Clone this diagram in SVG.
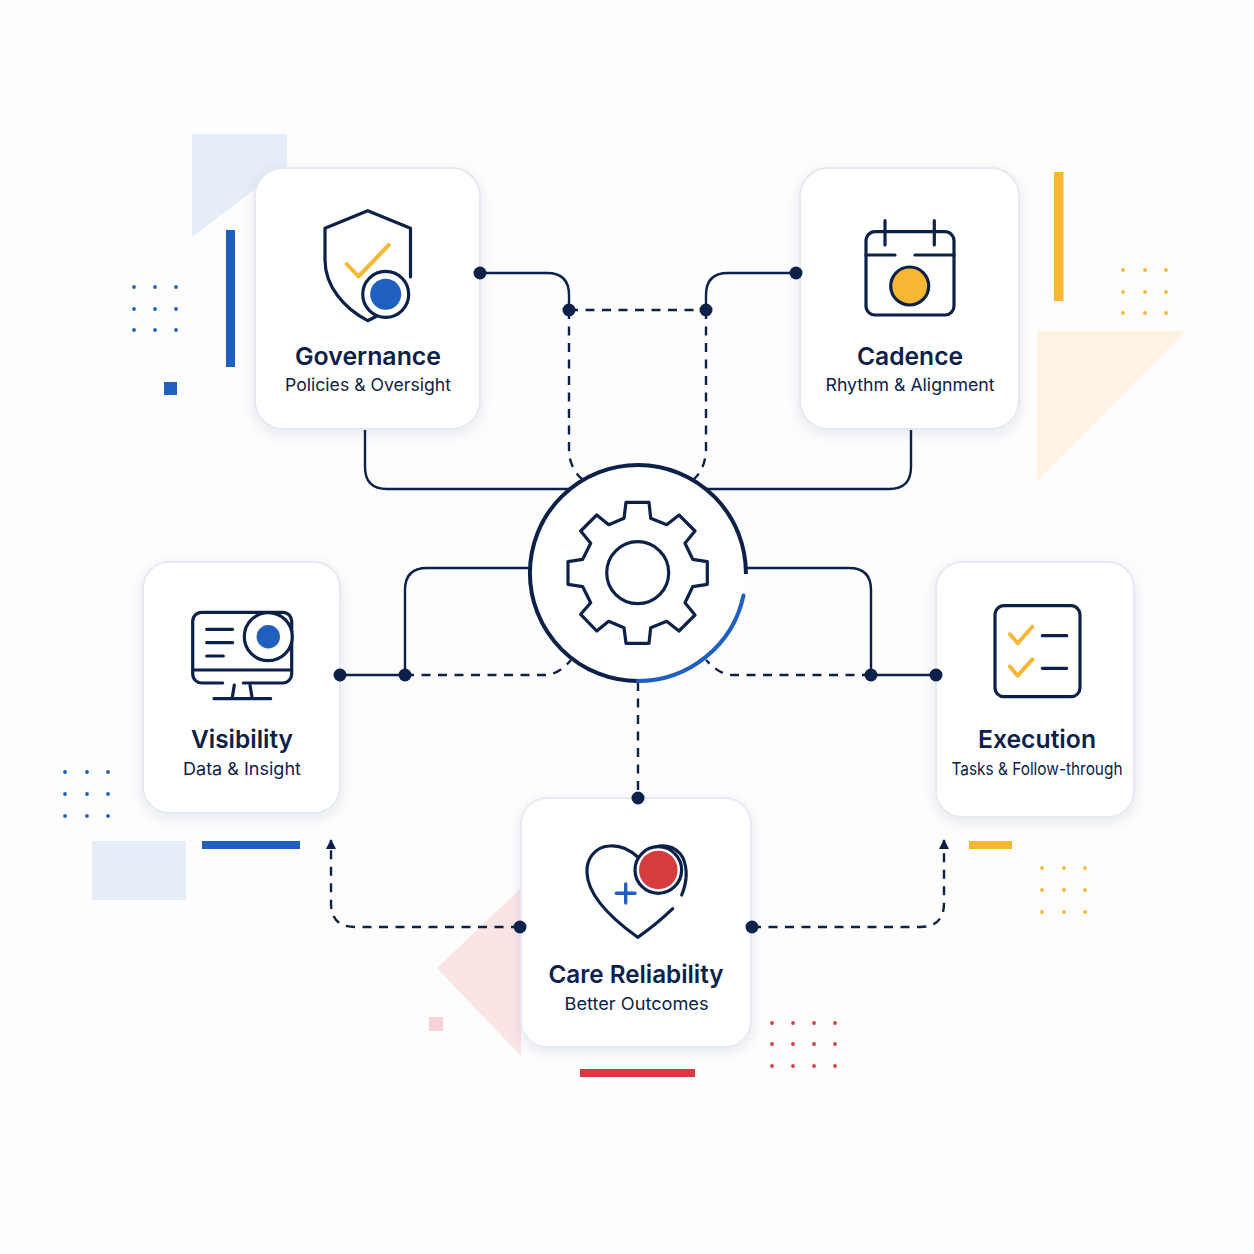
<svg xmlns="http://www.w3.org/2000/svg" width="1254" height="1254" viewBox="0 0 1254 1254">
<style>
.card{fill:#fff;stroke:#e5e9f1;stroke-width:2;filter:url(#sh)}
.i{fill:none;stroke:#0b2149;stroke-width:3.2;stroke-linecap:round;stroke-linejoin:round}
.ck{fill:none;stroke:#f7b733;stroke-width:4;stroke-linecap:round;stroke-linejoin:round}
.w{fill:#fff}
.ln{fill:none;stroke:#0b2149;stroke-width:2.4}
.da{stroke-dasharray:9 7.5}
.dot{fill:#0b2149}
.t{font-family:"Inter","Liberation Sans",sans-serif;font-weight:600;font-size:24.8px;fill:#0b2149;text-anchor:middle}
.s{font-family:"Inter","Liberation Sans",sans-serif;font-weight:400;font-size:17.6px;fill:#0b2149;text-anchor:middle}
.bl{fill:#1f5fbf}.am{fill:#f7b733}.rd{fill:#d63c3f}
.bl circle,.am circle,.rd circle{r:1.9px}
</style>
<defs>
<filter id="sh" x="-20%" y="-20%" width="140%" height="140%"><feDropShadow dx="0" dy="4" stdDeviation="6" flood-color="#24386a" flood-opacity="0.10"/></filter>
<marker id="ah" viewBox="0 0 10 10" refX="9" refY="5" markerWidth="10" markerHeight="10" markerUnits="userSpaceOnUse" orient="auto"><path d="M0 0L10 5L0 10Z" fill="#0b2149"/></marker>
</defs>
<rect width="1254" height="1254" fill="#fdfdfe"/>
<g id="decor">
<polygon points="192,134 287,134 287,165 192,237" fill="#e5edf8"/>
<rect x="226" y="230" width="9" height="137" class="bl"/>
<rect x="164" y="382" width="13" height="13" class="bl"/>
<rect x="1054" y="172" width="9.500" height="129" class="am"/>
<polygon points="1037,331 1186,331 1037,481" fill="#fdf3e2"/>
<rect x="92" y="841" width="94" height="59" fill="#e5edf8"/>
<rect x="202" y="841" width="98" height="8" class="bl"/>
<rect x="969" y="841" width="43" height="8" class="am"/>
<polygon points="521,888 437,968 521,1056" fill="#fbe4e4"/>
<rect x="429" y="1017" width="14" height="14" fill="#f8d2d4"/>
<rect x="580" y="1069" width="115" height="8" class="rd"/>
<g class="bl"><circle cx="134" cy="287" r="1.900"/><circle cx="155" cy="287" r="1.900"/><circle cx="176" cy="287" r="1.900"/><circle cx="134" cy="309" r="1.900"/><circle cx="155" cy="309" r="1.900"/><circle cx="176" cy="309" r="1.900"/><circle cx="134" cy="330" r="1.900"/><circle cx="155" cy="330" r="1.900"/><circle cx="176" cy="330" r="1.900"/>
<circle cx="65" cy="772" r="1.900"/><circle cx="87" cy="772" r="1.900"/><circle cx="108" cy="772" r="1.900"/><circle cx="65" cy="794" r="1.900"/><circle cx="87" cy="794" r="1.900"/><circle cx="108" cy="794" r="1.900"/><circle cx="65" cy="816" r="1.900"/><circle cx="87" cy="816" r="1.900"/><circle cx="108" cy="816" r="1.900"/></g>
<g class="am"><circle cx="1123" cy="270" r="1.900"/><circle cx="1145" cy="270" r="1.900"/><circle cx="1166" cy="270" r="1.900"/><circle cx="1123" cy="292" r="1.900"/><circle cx="1145" cy="292" r="1.900"/><circle cx="1166" cy="292" r="1.900"/><circle cx="1123" cy="313" r="1.900"/><circle cx="1145" cy="313" r="1.900"/><circle cx="1166" cy="313" r="1.900"/>
<circle cx="1042" cy="868" r="1.900"/><circle cx="1064" cy="868" r="1.900"/><circle cx="1085" cy="868" r="1.900"/><circle cx="1042" cy="890" r="1.900"/><circle cx="1064" cy="890" r="1.900"/><circle cx="1085" cy="890" r="1.900"/><circle cx="1042" cy="912" r="1.900"/><circle cx="1064" cy="912" r="1.900"/><circle cx="1085" cy="912" r="1.900"/></g>
<g class="rd"><circle cx="772" cy="1023" r="1.900"/><circle cx="793" cy="1023" r="1.900"/><circle cx="814" cy="1023" r="1.900"/><circle cx="835" cy="1023" r="1.900"/><circle cx="772" cy="1044" r="1.900"/><circle cx="793" cy="1044" r="1.900"/><circle cx="814" cy="1044" r="1.900"/><circle cx="835" cy="1044" r="1.900"/><circle cx="772" cy="1066" r="1.900"/><circle cx="793" cy="1066" r="1.900"/><circle cx="814" cy="1066" r="1.900"/><circle cx="835" cy="1066" r="1.900"/></g>
</g>
<g id="connectors">
<path class="ln" d="M480 273H547Q569 273 569 295V310"/>
<path class="ln" d="M796 273H728Q706 273 706 295V310"/>
<path class="ln da" d="M569 310H706"/>
<path class="ln da" d="M569 310V448Q569 468 582 479"/>
<path class="ln da" d="M706 310V448Q706 468 694 479"/>
<path class="ln" d="M365 429V467Q365 489 387 489H570"/>
<path class="ln" d="M911 429V467Q911 489 889 489H706"/>
<path class="ln" d="M530 568H427Q405 568 405 590V675"/>
<path class="ln" d="M746 568H849Q871 568 871 590V675"/>
<path class="ln" d="M340 675H405"/>
<path class="ln" d="M871 675H936"/>
<path class="ln da" d="M405 675H545Q558 675 571 660"/>
<path class="ln da" d="M871 675H732Q720 675 706 660"/>
<path class="ln da" d="M638 682V798"/>
<path class="ln da" marker-end="url(#ah)" d="M520 927H355Q331 927 331 903V840"/>
<path class="ln da" marker-end="url(#ah)" d="M752 927H920Q944 927 944 903V840"/>
</g>
<g id="hub">
<circle cx="638" cy="573" r="106" fill="#fff"/>
<path fill="none" stroke="#0b2149" stroke-width="4" d="M638 681A108 108 0 1 1 745.900 574"/>
<path fill="none" stroke="#1f5fbf" stroke-width="4" stroke-linecap="round" d="M743.500 595.500A108 108 0 0 1 638 681"/>
<path class="i" stroke-linecap="butt" d="M626 502.300H649L650.700 518.300L666.700 524.700L679 515L695 531L685 543.300L692.700 559.300L707.300 561.700V584.300L692.700 586.700L685 602.700L695 615L679 631L666.700 621.300L650.700 627.700L649 643.300H626L624 627.700L608.700 621.300L596.700 631L580.700 614.300L590.700 602.700L582.700 586.700L568 584.300V561.700L582.700 559.300L590.700 543.300L580.700 531L596.700 515L608.700 524.700L624 518.300Z"/>
<circle class="i" cx="637.700" cy="572.700" r="31"/>
</g>
<g id="governance">
<rect class="card" x="255" y="168" width="225" height="261" rx="28"/>
<path class="i" d="M410.500 277V228.300L367.700 210.700L325 228.300V260C325 287 345 309 367.700 320.700L376 316.500"/>
<path class="ck" d="M346.700 264L358.500 276.500L388.700 245"/>
<circle class="i w" cx="385.700" cy="294.300" r="23"/>
<circle class="bl" cx="385.700" cy="294.300" r="15.500"/>
<text class="t" x="368" y="364.500" textLength="146" lengthAdjust="spacingAndGlyphs">Governance</text>
<text class="s" x="368" y="391" textLength="166" lengthAdjust="spacingAndGlyphs">Policies &amp; Oversight</text>
</g>
<g id="cadence">
<rect class="card" x="800" y="168" width="219" height="261" rx="28"/>
<rect class="i" x="866" y="231.700" width="88" height="83.300" rx="9"/>
<path class="i" d="M885 220.700V245M934.300 220.700V245M866 255H895M915 255H954"/>
<circle cx="909.700" cy="286" r="19" fill="#f7b733" stroke="#0b2149" stroke-width="3.200"/>
<text class="t" x="910" y="364.500" textLength="106" lengthAdjust="spacingAndGlyphs">Cadence</text>
<text class="s" x="910" y="391" textLength="169" lengthAdjust="spacingAndGlyphs">Rhythm &amp; Alignment</text>
</g>
<g id="visibility">
<rect class="card" x="143" y="562" width="197" height="251" rx="26"/>
<path class="i" d="M222.700 683H201.700A9 9 0 0 1 192.700 674V621.300A9 9 0 0 1 201.700 612.300H282.700A9 9 0 0 1 291.700 621.300V674A9 9 0 0 1 282.700 683H243.300"/>
<path class="i" d="M192.700 670H291.700M206.700 629.300H232.700M206.700 642.700H232.700M206.700 656H223.300M234.300 685L232.300 697.300M250 685L252 697.300M214 698.700H270.700"/>
<circle class="i w" cx="268.300" cy="636.700" r="24"/>
<circle class="bl" cx="268.300" cy="636.700" r="11.700"/>
<text class="t" x="242" y="748" textLength="102" lengthAdjust="spacingAndGlyphs">Visibility</text>
<text class="s" x="242" y="775" textLength="118" lengthAdjust="spacingAndGlyphs">Data &amp; Insight</text>
</g>
<g id="execution">
<rect class="card" x="936" y="562" width="198" height="255" rx="26"/>
<rect class="i" x="995" y="605.700" width="85" height="91" rx="9"/>
<path class="ck" d="M1010 634.300L1017.700 643.300L1032.300 626.700M1010 666.700L1017.700 675.700L1032.300 659.300"/>
<path class="i" d="M1042.300 635.700H1066.700M1042.300 668.300H1066.700"/>
<text class="t" x="1037" y="748" textLength="118" lengthAdjust="spacingAndGlyphs">Execution</text>
<text class="s" x="1037" y="775" textLength="171" lengthAdjust="spacingAndGlyphs">Tasks &amp; Follow-through</text>
</g>
<g id="care-reliability">
<rect class="card" x="521" y="798" width="230" height="249" rx="26"/>
<path class="i" d="M637.700 857C628 848 618 845 609 846C595 847 586 859 587 873C588 897 615 921 637.700 937.300C650 929 662 919 672.700 908.700"/>
<path class="i" d="M648 851C660 842 676 845 683 858C688 870 687 882 681.700 895"/>
<circle class="i w" cx="658.300" cy="870" r="23.300"/>
<circle class="rd" cx="658.300" cy="870" r="19.300"/>
<path fill="none" stroke="#1f5fbf" stroke-width="3.400" stroke-linecap="round" d="M625.700 884V903M616.300 893.300H635"/>
<text class="t" x="636" y="983" textLength="175" lengthAdjust="spacingAndGlyphs">Care Reliability</text>
<text class="s" x="636.500" y="1010" textLength="144" lengthAdjust="spacingAndGlyphs">Better Outcomes</text>
</g>
<g id="ports" class="dot"><circle cx="480" cy="273" r="6.500"/><circle cx="796" cy="273" r="6.500"/><circle cx="569" cy="310" r="6.500"/><circle cx="706" cy="310" r="6.500"/><circle cx="340" cy="675" r="6.500"/><circle cx="405" cy="675" r="6.500"/><circle cx="871" cy="675" r="6.500"/><circle cx="936" cy="675" r="6.500"/><circle cx="638" cy="798" r="6.500"/><circle cx="520" cy="927" r="6.500"/><circle cx="752" cy="927" r="6.500"/></g>
</svg>
